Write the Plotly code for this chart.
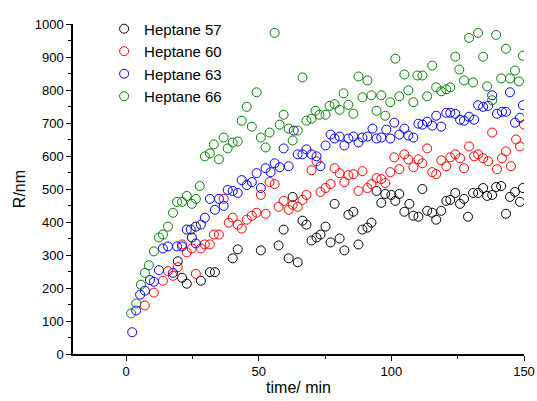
import plotly.graph_objects as go

# Heptane 57 (black)
t57 = [19.5, 21.1, 22.9, 24.8, 26.3, 28.2, 31.6, 33.5, 40.2, 42.1, 50.8, 57.5, 59.4, 61.3, 62.8, 64.7,
       66.5, 68.0, 69.9, 71.8, 73.3, 75.2, 77.1, 78.6, 80.5, 82.3, 83.8, 85.7, 87.6, 89.1, 91.0, 92.5,
       94.4, 96.2, 97.7, 100.0, 101.5, 103.0, 104.9, 106.8, 108.3, 110.2, 111.7, 113.5, 115.4, 116.9,
       118.8, 120.7, 122.2, 124.1, 125.9, 127.4, 128.9, 130.8, 132.7, 134.6, 136.1, 138.0, 139.5,
       141.4, 143.2, 144.7, 146.6, 148.5, 149.6]
r57 = [281, 231, 213, 353, 386, 222, 248, 248, 290, 317, 314, 329, 377, 290, 476, 278,
       404, 392, 344, 353, 362, 386, 338, 455, 350, 314, 422, 431, 332, 377, 383, 398,
       494, 458, 485, 482, 464, 485, 431, 455, 419, 416, 500, 434, 428, 407,
       434, 464, 467, 488, 455, 470, 416, 488, 488, 503, 479, 482, 506,
       509, 425, 476, 491, 461, 503]

# Heptane 60 (red)
t60 = [7.1, 10.5, 13.9, 15.8, 17.7, 19.5, 21.1, 22.9, 24.8, 26.3, 28.2, 29.7, 31.6, 33.1, 35.0, 36.8,
       38.7, 40.2, 42.1, 43.6, 45.5, 47.4, 49.2, 50.8, 52.6, 54.1, 56.0, 57.5, 59.4, 61.3, 62.8, 64.7,
       66.5, 68.0, 69.9, 71.8, 73.3, 75.2, 77.1, 78.6, 80.5, 82.3, 83.8, 85.7, 87.6, 89.1, 91.0, 92.5,
       94.4, 96.2, 97.7, 99.6, 101.1, 103.0, 104.9, 106.4, 108.3, 110.2, 111.7, 113.5, 115.4, 116.9,
       118.8, 120.7, 122.2, 124.1, 125.9, 127.4, 129.3, 131.2, 132.7, 134.6, 136.5, 138.0, 139.8,
       141.7, 143.2, 145.1, 147.0, 148.5, 150.0]
r60 = [147, 186, 222, 251, 237, 263, 332, 308, 320, 243, 320, 332, 332, 362, 362, 470,
       398, 413, 392, 380, 407, 419, 428, 482, 425, 521, 515, 446, 464, 437, 452, 446,
       467, 482, 557, 584, 491, 503, 515, 563, 548, 521, 542, 545, 494, 554, 503, 515,
       533, 530, 518, 551, 596, 560, 605, 590, 566, 590, 578, 623, 551, 545,
       587, 569, 596, 605, 593, 563, 629, 599, 605, 593, 584, 671, 560,
       593, 614, 569, 650, 629, 695]

# Heptane 63 (blue)
t63 = [2.3, 3.8, 5.3, 7.1, 9.0, 10.5, 12.4, 13.9, 15.8, 17.7, 19.2, 21.1, 22.9, 24.4, 26.3, 28.2,
       29.7, 31.6, 33.5, 35.0, 36.8, 38.3, 40.2, 42.1, 43.6, 45.5, 47.4, 49.2, 50.8, 52.6, 54.5, 56.0,
       57.9, 59.4, 61.3, 63.2, 64.7, 66.5, 68.0, 69.9, 71.8, 73.3, 75.2, 77.1, 78.6, 80.5, 82.3, 83.8,
       85.7, 87.6, 89.1, 91.0, 92.9, 94.4, 96.2, 98.1, 99.6, 101.1, 103.0, 104.9, 106.4, 108.3, 110.2,
       111.7, 113.5, 115.4, 116.9, 118.8, 120.7, 122.2, 124.1, 125.9, 127.4, 129.3, 131.2, 132.7,
       134.6, 136.5, 138.0, 139.8, 141.7, 143.2, 144.7, 146.6, 148.5, 149.6]
r63 = [66, 132, 180, 192, 224, 219, 254, 320, 326, 246, 326, 326, 377, 377, 335, 392,
       413, 470, 437, 470, 449, 497, 494, 488, 527, 512, 521, 548, 503, 563, 551, 578,
       566, 623, 569, 677, 605, 605, 620, 605, 599, 569, 632, 665, 653, 659, 632, 653,
       659, 641, 656, 659, 683, 653, 656, 680, 653, 701, 665, 683, 662, 656, 698,
       695, 704, 692, 722, 689, 731, 731, 728, 710, 707, 719, 710, 754,
       749, 752, 784, 728, 734, 734, 793, 701, 716, 754]

# Heptane 66 (green)
t66 = [1.9, 3.8, 5.6, 7.1, 8.6, 10.5, 12.4, 13.9, 15.8, 17.7, 19.2, 21.1, 22.9, 24.8, 26.3, 27.8,
       29.7, 31.6, 33.1, 35.0, 36.8, 38.3, 40.2, 42.1, 43.6, 45.5, 47.4, 49.2, 50.8, 52.6, 54.1, 56.0,
       57.9, 59.4, 61.3, 62.8, 64.7, 66.5, 68.0, 69.9, 71.4, 72.9, 75.2, 76.7, 78.6, 80.5, 82.0, 83.8,
       85.7, 87.6, 89.1, 91.0, 92.5, 94.4, 96.2, 97.7, 99.6, 101.5, 103.0, 104.9, 106.4, 108.3, 109.8,
       111.7, 113.5, 115.4, 116.9, 118.8, 120.7, 122.2, 124.1, 125.6, 127.4, 129.3, 130.8, 132.7,
       134.6, 136.1, 138.0, 139.5, 141.4, 143.2, 144.7, 146.6, 148.1, 149.6]
r66 = [123, 153, 210, 246, 269, 311, 353, 362, 386, 428, 461, 461, 479, 455, 470, 509,
       599, 608, 635, 590, 656, 623, 641, 644, 707, 749, 689, 793, 656, 626, 671, 973,
       695, 725, 683, 647, 677, 838, 707, 713, 737, 725, 725, 752, 757, 740, 790, 755,
       728, 841, 778, 829, 784, 737, 784, 722, 763, 895, 781, 847, 799, 763, 844,
       844, 781, 874, 808, 796, 802, 808, 901, 862, 829, 958, 823, 973,
       901, 811, 769, 967, 835, 925, 835, 859, 826, 904]

series = [
    ("Heptane 57", t57, r57, "#000000"),
    ("Heptane 60", t60, r60, "#ff0000"),
    ("Heptane 63", t63, r63, "#0000ff"),
    ("Heptane 66", t66, r66, "#008000"),
]

fig = go.Figure()
for name, xs, ys, col in series:
    fig.add_trace(go.Scatter(
        x=xs, y=ys, mode="markers", name=name,
        marker=dict(symbol="circle-open", size=9, color=col, line=dict(width=1, color=col)),
    ))

FONT = "Arial, Liberation Sans"
axis_common = dict(
    showgrid=False, zeroline=False, showline=True, linecolor="black", linewidth=1.5,
    ticks="outside", ticklen=5, tickwidth=1.2, tickcolor="black",
    tickfont=dict(family=FONT, size=13, color="black"),
    mirror=False, automargin=False,
)

fig.update_layout(
    width=537, height=401,
    margin=dict(l=73, r=13, t=21, b=47),
    paper_bgcolor="white", plot_bgcolor="white",
    font=dict(family=FONT, color="black"),
    showlegend=True,
    legend=dict(x=0.069, y=1.035, xanchor="left", yanchor="top",
                font=dict(size=15, family=FONT, color="black"),
                bgcolor="rgba(0,0,0,0)", itemsizing="trace", tracegroupgap=0),
    xaxis=dict(range=[-20, 150], tickvals=[0, 50, 100, 150],
               minor=dict(tickvals=[25, 75, 125], ticks="outside", ticklen=3, tickcolor="black", tickwidth=1.2),
               title=dict(text="time/ min", font=dict(size=16, family=FONT), standoff=3),
               **axis_common),
    yaxis=dict(range=[0, 1000], tickvals=list(range(0, 1001, 100)),
               minor=dict(tickvals=list(range(50, 1000, 100)), ticks="outside", ticklen=3, tickcolor="black", tickwidth=1.2),
               title=dict(text="R/nm", font=dict(size=16, family=FONT), standoff=5),
               **axis_common),
)

fig.write_html("out.html")
